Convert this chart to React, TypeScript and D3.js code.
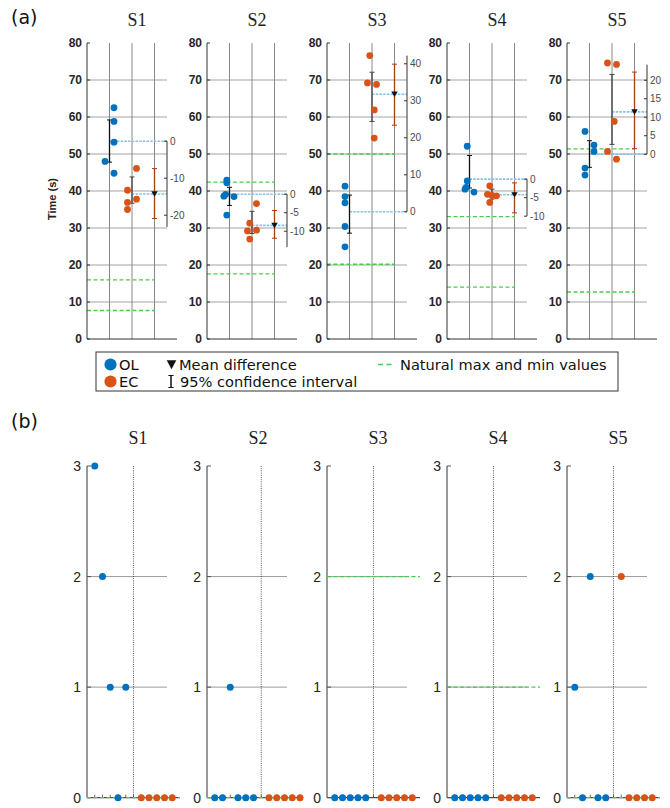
import React from "react";
import * as d3 from "d3";

// ---------- data ----------
const subjects = ["S1", "S2", "S3", "S4", "S5"];

// (a) completion times (s)
const olTimes = [
  [62.5, 58.8, 53.2, 48.0, 44.8],
  [42.9, 42.2, 39.1, 38.6, 38.5, 33.5],
  [41.3, 38.5, 36.8, 30.4, 24.9],
  [52.1, 42.7, 41.0, 40.5, 39.7],
  [56.1, 52.4, 50.7, 46.2, 44.3],
];
const olSpread = [
  [1.2, 1.2, 1.2, 0.8, 1.2],
  [0.88, 0.88, 0.83, 0.75, 1.2, 0.88],
  [0.8, 0.8, 0.8, 0.8, 0.8],
  [0.9, 0.9, 0.85, 0.8, 1.2],
  [0.8, 1.2, 1.2, 0.8, 0.8],
];
const ecTimes = [
  [46.1, 40.2, 37.8, 36.9, 35.0],
  [36.6, 31.3, 29.4, 29.2, 27.0],
  [76.6, 69.2, 68.8, 61.9, 54.3],
  [41.4, 39.1, 38.8, 38.7, 36.9],
  [74.6, 74.2, 58.8, 50.7, 48.6],
];
const ecSpread = [
  [2.2, 1.8, 2.2, 1.8, 1.8],
  [2.2, 1.9, 2.2, 1.8, 1.9],
  [1.9, 1.8, 2.2, 2.1, 2.1],
  [1.9, 1.8, 2.0, 2.2, 1.9],
  [1.8, 2.2, 2.1, 1.8, 2.2],
];
const olCI = [[47.8, 59.2], [36.1, 41.0], [28.6, 38.9], [40.8, 49.6], [46.4, 53.6]];
const ecCI = [[36.7, 43.8], [28.5, 34.5], [58.8, 72.1], [37.8, 40.5], [52.6, 71.5]];
const diffCI = [[-20.9, -7.4], [-11.9, -4.4], [23.4, 39.9], [-9.1, -1.0], [1.5, 22.2]];
const diffTicks = [
  [0, -10, -20],
  [0, -5, -10],
  [0, 10, 20, 30, 40],
  [0, -5, -10],
  [0, 5, 10, 15, 20],
];
const diffAxisEnd = [-23.2, -14.3, 42.2, -10, 24.2];
const naturalA = [[16.0, 7.7], [42.4, 17.6], [50.0, 20.2], [33.1, 14.0], [51.4, 12.7]];
const timeTicks = [0, 10, 20, 30, 40, 50, 60, 70, 80];

// (b) error counts per trial
const olErrors = [
  [3, 2, 1, 0, 1],
  [0, 0, 1, 0, 0, 0],
  [0, 0, 0, 0, 0],
  [0, 0, 0, 0, 0],
  [1, 0, 2, 0, 0],
];
const ecErrors = [
  [0, 0, 0, 0, 0],
  [0, 0, 0, 0, 0],
  [0, 0, 0, 0, 0],
  [0, 0, 0, 0, 0],
  [2, 0, 0, 0, 0],
];
const naturalB = [0, 0, 2, 1, 0];
const errorTicks = [0, 1, 2, 3];

// ---------- layout / style ----------
const W = 670, H = 808;
const axisX = [87, 207, 327, 447, 567];
const A_TOP = 43, A_BOTTOM = 339;
const B_TOP = 466, B_BOTTOM = 797.7;
const OL_COLOR = "#0072BD";
const EC_COLOR = "#D95319";
const DIFF_CI = "#A2400F";
const MEAN_LINE = "#86bfe8";
const GREEN = "#49cc49";
const SANS = "'Liberation Sans', Arial, sans-serif";
const DEJAVU = "'DejaVu Sans', sans-serif";
const SERIF = "'Liberation Serif', 'Times New Roman', serif";

function ErrBar({ x, y1, y2, color, w = 2.5, sw = 1.3 }: any) {
  return (
    <g stroke={color} strokeWidth={sw}>
      <line x1={x} x2={x} y1={y1} y2={y2} />
      <line x1={x - w} x2={x + w} y1={y1} y2={y1} strokeWidth={1} />
      <line x1={x - w} x2={x + w} y1={y2} y2={y2} strokeWidth={1} />
    </g>
  );
}

function PanelA({ i }: { i: number }) {
  const ax = axisX[i];
  const x = d3.scaleLinear().domain([0, 4]).range([ax, ax + 90]);
  const y = d3.scaleLinear().domain([0, 80]).range([A_BOTTOM, A_TOP]);
  const rightX = ax + 80;
  const olMean = d3.mean(olTimes[i]) as number;
  const ecMean = d3.mean(ecTimes[i]) as number;
  const yd = (d: number) => y(olMean + d);
  return (
    <g>
      <text x={ax + 50} y={26} textAnchor="middle" fontFamily={SERIF} fontSize={18} fill="#222">
        {subjects[i]}
      </text>
      {timeTicks.filter((t) => t > 0 && t < 80).map((t) => (
        <line key={"h" + t} x1={ax} x2={rightX} y1={y(t)} y2={y(t)} stroke="#a3a3a3" strokeWidth={1} />
      ))}
      {[1, 2, 3].map((v) => (
        <line key={"v" + v} x1={x(v)} x2={x(v)} y1={A_TOP} y2={A_BOTTOM} stroke="#7a7a7a" strokeWidth={0.9} />
      ))}
      {naturalA[i].map((v, k) => (
        <line key={"g" + k} x1={x(0)} x2={x(3)} y1={y(v)} y2={y(v)} stroke={GREEN} strokeWidth={1.3} strokeDasharray="4,2.5" />
      ))}
      <line x1={x(1)} x2={rightX} y1={y(olMean)} y2={y(olMean)} stroke={MEAN_LINE} strokeWidth={1.6} strokeDasharray="2.5,1.2" />
      <line x1={x(2)} x2={rightX} y1={y(ecMean)} y2={y(ecMean)} stroke={MEAN_LINE} strokeWidth={1.6} strokeDasharray="2.5,1.2" />
      <ErrBar x={x(1)} y1={y(olCI[i][0])} y2={y(olCI[i][1])} color="#111" />
      <ErrBar x={x(2)} y1={y(ecCI[i][0])} y2={y(ecCI[i][1])} color="#444" />
      <ErrBar x={x(3)} y1={yd(diffCI[i][0])} y2={yd(diffCI[i][1])} color={DIFF_CI} />
      {olTimes[i].map((v, k) => (
        <circle key={"o" + k} cx={x(olSpread[i][k])} cy={y(v)} r={3.4} fill={OL_COLOR} />
      ))}
      {ecTimes[i].map((v, k) => (
        <circle key={"e" + k} cx={x(ecSpread[i][k])} cy={y(v)} r={3.4} fill={EC_COLOR} />
      ))}
      <path transform={`translate(${x(3)},${y(ecMean)})`} d="M-3.2,-2.6 L3.2,-2.6 L0,2.8 Z" fill="#111" />
      <line x1={ax} x2={ax} y1={A_TOP} y2={A_BOTTOM} stroke="#333" strokeWidth={1} />
      <line x1={ax} x2={x(4)} y1={A_BOTTOM} y2={A_BOTTOM} stroke="#333" strokeWidth={1} />
      {timeTicks.map((t) => (
        <g key={"t" + t}>
          <line x1={ax} x2={ax + 3} y1={y(t)} y2={y(t)} stroke="#333" />
          <text x={ax - 5} y={y(t)} dy="0.36em" textAnchor="end" fontFamily={SANS} fontWeight="bold" fontSize={12} fill="#262626">
            {t}
          </text>
        </g>
      ))}
      <line x1={rightX} x2={rightX} y1={yd(0)} y2={yd(diffAxisEnd[i])} stroke="#333" strokeWidth={1} />
      {diffTicks[i].map((t) => (
        <g key={"d" + t}>
          <line x1={rightX - 3} x2={rightX} y1={yd(t)} y2={yd(t)} stroke="#333" />
          <text x={rightX + 3} y={yd(t)} dy="0.36em" fontFamily={SANS} fontSize={10} fill="#4a4a4a">
            {t < 0 ? "-" + Math.abs(t) : String(t)}
          </text>
        </g>
      ))}
    </g>
  );
}

function PanelB({ i }: { i: number }) {
  const ax = axisX[i];
  const nOL = olErrors[i].length;
  const nEC = ecErrors[i].length;
  const x = d3.scaleLinear().domain([0, 12]).range([ax, ax + 93]);
  const y = d3.scaleLinear().domain([0, 3]).range([B_BOTTOM, B_TOP]);
  const divider = nOL + 1;
  const nPos = nOL + nEC + 1;
  const axisEnd = Math.max(12, nPos + 0.4);
  return (
    <g>
      <text x={ax + 51} y={444} textAnchor="middle" fontFamily={SERIF} fontSize={18} fill="#222">
        {subjects[i]}
      </text>
      {[1, 2].map((t) => (
        <line key={"h" + t} x1={ax} x2={ax + 80} y1={y(t)} y2={y(t)} stroke="#9a9a9a" strokeWidth={1} />
      ))}
      <line x1={x(divider)} x2={x(divider)} y1={y(3)} y2={y(0)} stroke="#333" strokeWidth={0.8} strokeDasharray="1,1.2" />
      <line x1={ax} x2={ax} y1={y(0)} y2={y(3)} stroke="#555" strokeWidth={1.2} />
      <line x1={ax} x2={x(axisEnd)} y1={y(0)} y2={y(0)} stroke="#222" strokeWidth={1} />
      {d3.range(1, nPos + 1).map((p) => (
        <line key={"xt" + p} x1={x(p)} x2={x(p)} y1={y(0)} y2={y(0) - 3} stroke="#444" strokeWidth={0.8} />
      ))}
      {errorTicks.map((t) => (
        <g key={"t" + t}>
          <line x1={ax} x2={ax + 4} y1={y(t)} y2={y(t)} stroke="#555" />
          <text x={ax - 6} y={y(t)} dy="0.36em" textAnchor="end" fontFamily={SANS} fontSize={14} fill="#222">
            {t}
          </text>
        </g>
      ))}
      <line x1={ax} x2={x(12)} y1={y(naturalB[i])} y2={y(naturalB[i])} stroke={GREEN} strokeWidth={1.3} strokeDasharray="4,2.5" />
      {olErrors[i].map((v, k) => (
        <circle key={"o" + k} cx={x(k + 1)} cy={y(v)} r={3.5} fill={OL_COLOR} />
      ))}
      {ecErrors[i].map((v, k) => (
        <circle key={"e" + k} cx={x(divider + 1 + k)} cy={y(v)} r={3.5} fill={EC_COLOR} />
      ))}
    </g>
  );
}

function Legend() {
  const r1 = 364.5, r2 = 381.5;
  return (
    <g fontFamily={DEJAVU} fontSize={14.6} fill="#111">
      <rect x={96} y={352} width={522} height={39} fill="#fff" stroke="#333" strokeWidth={1} />
      <circle cx={110.5} cy={r1} r={6.1} fill={OL_COLOR} />
      <text x={119} y={r1} dy="0.36em">OL</text>
      <circle cx={110.5} cy={r2} r={6.1} fill={EC_COLOR} />
      <text x={119} y={r2} dy="0.36em">EC</text>
      <path transform={`translate(171.5,${r1})`} d="M-4.8,-4.2 L4.8,-4.2 L0,4.8 Z" fill="#111" />
      <text x={179} y={r1} dy="0.36em">Mean difference</text>
      <ErrBar x={171} y1={r2 - 6} y2={r2 + 6} color="#111" w={2.6} sw={1.5} />
      <text x={180} y={r2} dy="0.36em">95% confidence interval</text>
      <line x1={378} x2={394} y1={r1} y2={r1} stroke={GREEN} strokeWidth={1.3} strokeDasharray="5,3.5" />
      <text x={400} y={r1} dy="0.36em">Natural max and min values</text>
    </g>
  );
}

export default function App() {
  return (
    <svg width={W} height={H} viewBox={`0 0 ${W} ${H}`} style={{ position: "absolute", left: 0, top: 0, background: "#fff" }}>
      <rect width={W} height={H} fill="#fff" />
      <text x={11} y={24} fontFamily={DEJAVU} fontSize={19} fill="#111">(a)</text>
      <text x={11} y={428} fontFamily={DEJAVU} fontSize={19} fill="#111">(b)</text>
      <text transform={`translate(56,199) rotate(-90)`} textAnchor="middle" fontFamily={SANS} fontWeight="bold" fontSize={11} fill="#222">
        Time (s)
      </text>
      {subjects.map((s, i) => (
        <PanelA key={"a" + s} i={i} />
      ))}
      <Legend />
      {subjects.map((s, i) => (
        <PanelB key={"b" + s} i={i} />
      ))}
    </svg>
  );
}
